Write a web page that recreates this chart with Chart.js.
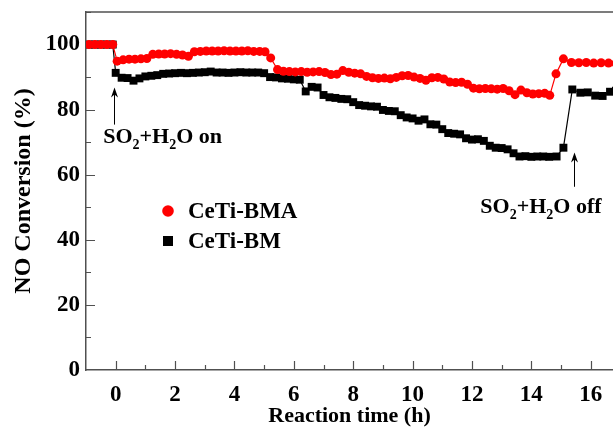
<!DOCTYPE html>
<html>
<head>
<meta charset="utf-8">
<title>NO Conversion vs Reaction time</title>
<script src="https://cdn.jsdelivr.net/npm/chart.js@4/dist/chart.umd.min.js"></script>
<style>
  html, body { margin: 0; padding: 0; background: #fff; overflow: hidden; }
  canvas { display: block; }
</style>
</head>
<body>
<canvas id="chart" width="613" height="428" style="width:613px;height:428px"></canvas>
<script>
// Reaction time (h) and NO conversion (%) for CeTi-BMA
const timeBMA = [-0.9, -0.7, -0.5, -0.3, -0.1,
  0.05, 0.25, 0.45, 0.65, 0.85, 1.05,
  1.25, 1.45, 1.65, 1.85, 2.05, 2.25, 2.45,
  2.65, 2.85, 3.05, 3.25, 3.45, 3.65, 3.85, 4.05, 4.25, 4.45, 4.65, 4.85,
  5.03, 5.22,
  5.45, 5.65, 5.85, 6.05, 6.25, 6.45, 6.65, 6.85, 7.05,
  7.25, 7.45, 7.65, 7.85, 8.05, 8.25, 8.45, 8.65, 8.85, 9.05,
  9.25, 9.45, 9.65, 9.85, 10.05, 10.25, 10.45, 10.65, 10.85, 11.05,
  11.25, 11.45, 11.65, 11.85, 12.05, 12.25, 12.45, 12.65, 12.85, 13.05,
  13.25, 13.45, 13.65, 13.85, 14.05, 14.25, 14.45, 14.62,
  14.83, 15.08, 15.35, 15.6, 15.85, 16.1, 16.35, 16.6, 16.85];
const convBMA = [100, 100, 100, 100, 100,
  94.9, 95.3, 95.5, 95.5, 95.6, 95.7,
  97.0, 97.1, 97.1, 97.2, 97.0, 96.8, 96.4,
  97.8, 97.9, 98.0, 98.0, 98.0, 98.1, 98.0, 98.0, 98.0, 98.1, 97.9, 97.9,
  97.8, 95.9,
  92.3, 91.8, 91.7, 91.6, 91.7, 91.5, 91.6, 91.7, 91.4,
  90.8, 90.9, 92.0, 91.5, 91.2, 91.0, 90.2, 89.8, 89.6, 89.7,
  89.5, 89.9, 90.4, 90.5, 90.0, 89.6, 89.0, 89.8, 89.9, 89.4,
  88.5, 88.3, 88.4, 87.8, 86.6, 86.4, 86.5, 86.4, 86.3, 86.5,
  85.8, 84.6, 86.0, 85.2, 84.8, 84.9, 85.0, 84.4,
  91.0, 95.6, 94.5, 94.4, 94.5, 94.3, 94.4, 94.3, 94.2];

// Reaction time (h) and NO conversion (%) for CeTi-BM
const timeBM = [-0.9, -0.7, -0.5, -0.3, -0.1,
  0.0, 0.2, 0.4, 0.6, 0.8, 1.0, 1.2, 1.4, 1.6, 1.8,
  2.0, 2.2, 2.4, 2.6, 2.8, 3.0, 3.2, 3.4, 3.6, 3.8,
  4.0, 4.2, 4.4, 4.6, 4.8, 5.0, 5.2, 5.4, 5.6, 5.8,
  6.0, 6.2, 6.4, 6.6, 6.8, 7.0, 7.2, 7.4, 7.6, 7.8,
  8.0, 8.2, 8.4, 8.6, 8.8, 9.0, 9.2, 9.4, 9.6, 9.8,
  10.0, 10.2, 10.4, 10.6, 10.8, 11.0, 11.2, 11.4, 11.6, 11.8,
  12.0, 12.2, 12.4, 12.6, 12.8, 13.0, 13.2, 13.4, 13.6, 13.8,
  14.0, 14.2, 14.4, 14.6, 14.85, 15.08,
  15.38, 15.65, 15.9, 16.15, 16.4, 16.65, 16.85];
const convBM = [100, 100, 100, 100, 100,
  91.3, 89.8, 89.7, 88.9, 89.6, 90.2, 90.4, 90.6, 91.0, 91.1,
  91.2, 91.3, 91.2, 91.3, 91.4, 91.5, 91.7, 91.4, 91.4, 91.3,
  91.4, 91.5, 91.4, 91.4, 91.4, 91.2, 90.0, 89.9, 89.6, 89.5,
  89.3, 89.2, 85.6, 87.0, 86.8, 84.5, 83.8, 83.6, 83.3, 83.2,
  82.3, 81.4, 81.2, 81.0, 80.9, 79.9, 79.6, 79.5, 78.3, 77.6,
  77.3, 76.6, 77.0, 75.5, 75.4, 74.0, 72.8, 72.6, 72.4, 71.2,
  70.8, 70.9, 70.4, 68.9, 68.3, 68.2, 67.8, 66.6, 65.6, 65.7,
  65.5, 65.6, 65.6, 65.5, 65.6, 68.3,
  86.2, 85.2, 85.3, 84.3, 84.2, 85.5, 85.8];

// Axis tick values
const xTickValues = [0, 2, 4, 6, 8, 10, 12, 14, 16];
const yTickValues = [0, 20, 40, 60, 80, 100];

// Gas switching events: label pieces (text, is-subscript) and time of switch
const eventOn = { time: 0, parts: [['SO', 0], ['2', 1], ['+H', 0], ['2', 1], ['O on', 0]] };
const eventOff = { time: 15.3, parts: [['SO', 0], ['2', 1], ['+H', 0], ['2', 1], ['O off', 0]] };

const SERIF = '"Liberation Serif", "Times New Roman", Times, serif';
const AXIS_COLOR = '#505050';

function toPoints(times, values) {
  return times.map((t, i) => ({ x: t, y: values[i] }));
}

// Inward tick marks and the top frame line
const axisDecor = {
  id: 'axisDecor',
  beforeDatasetsDraw(chart) {
    const { ctx, chartArea: a, scales: { x, y } } = chart;
    ctx.save();
    ctx.strokeStyle = AXIS_COLOR;
    ctx.lineWidth = 1.5;
    ctx.beginPath();
    ctx.moveTo(a.left, a.top);
    ctx.lineTo(a.right + 2, a.top);
    ctx.stroke();
    ctx.lineWidth = 1.2;
    ctx.beginPath();
    const xStep = xTickValues[1] - xTickValues[0];
    xTickValues.forEach(v => {
      [[v, 9], [v + xStep / 2, 5]].forEach(([val, len]) => {
        const px = Math.round(x.getPixelForValue(val)) + 0.5;
        if (px <= a.left || px >= a.right) return;
        ctx.moveTo(px, a.bottom);
        ctx.lineTo(px, a.bottom - len);
      });
    });
    const yStep = yTickValues[1] - yTickValues[0];
    yTickValues.forEach(v => {
      [[v, 9], [v + yStep / 2, 5]].forEach(([val, len]) => {
        const py = Math.round(y.getPixelForValue(val)) + 0.5;
        if (py >= a.bottom || py <= a.top) return;
        ctx.moveTo(a.left, py);
        ctx.lineTo(a.left + len, py);
      });
    });
    ctx.stroke();
    ctx.restore();
  }
};

function drawChem(ctx, parts, x0, baseline) {
  let cx = x0;
  parts.forEach(([txt, sub]) => {
    ctx.font = sub ? 'bold 14px ' + SERIF : 'bold 22px ' + SERIF;
    ctx.fillText(txt, cx, sub ? baseline + 6 : baseline);
    cx += ctx.measureText(txt).width;
  });
}

function drawArrow(ctx, px, yFrom, yTip) {
  ctx.beginPath();
  ctx.moveTo(px, yFrom);
  ctx.lineTo(px, yTip + 6);
  ctx.stroke();
  ctx.beginPath();
  ctx.moveTo(px, yTip);
  ctx.lineTo(px - 3.5, yTip + 10);
  ctx.lineTo(px, yTip + 7);
  ctx.lineTo(px + 3.5, yTip + 10);
  ctx.closePath();
  ctx.fill();
}

// Event labels with arrows, plus the in-plot legend
const notes = {
  id: 'notes',
  afterDatasetsDraw(chart) {
    const { ctx, chartArea: a, scales: { x, y } } = chart;
    ctx.save();
    ctx.fillStyle = '#000';
    ctx.strokeStyle = '#000';
    ctx.lineWidth = 1;
    ctx.textBaseline = 'alphabetic';
    ctx.textAlign = 'left';

    const pxOn = Math.round(x.getPixelForValue(eventOn.time - 0.05)) + 0.5;
    drawArrow(ctx, pxOn, y.getPixelForValue(75.4), y.getPixelForValue(86.8));
    drawChem(ctx, eventOn.parts, x.getPixelForValue(-0.42), y.getPixelForValue(69.8));

    const pxOff = Math.round(x.getPixelForValue(eventOff.time + 0.15)) + 0.5;
    drawArrow(ctx, pxOff, y.getPixelForValue(56.3), y.getPixelForValue(66.8));
    drawChem(ctx, eventOff.parts, x.getPixelForValue(12.28), y.getPixelForValue(48.3));

    // legend
    const lx = a.left + 82;
    chart.data.datasets.forEach((ds, i) => {
      const ly = a.top + 199 + i * 30;
      ctx.fillStyle = ds.pointBackgroundColor;
      if (ds.pointStyle === 'circle') {
        ctx.beginPath();
        ctx.arc(lx, ly, 5.8, 0, Math.PI * 2);
        ctx.fill();
      } else {
        ctx.fillRect(lx - 5, ly - 5, 10, 10);
      }
      ctx.fillStyle = '#000';
      ctx.font = 'bold 23px ' + SERIF;
      ctx.textBaseline = 'middle';
      ctx.fillText(ds.label, lx + 20, ly + 1);
    });
    ctx.restore();
  }
};

new Chart(document.getElementById('chart'), {
  type: 'line',
  data: {
    datasets: [
      {
        label: 'CeTi-BMA',
        data: toPoints(timeBMA, convBMA),
        borderColor: '#ff0000',
        backgroundColor: '#ff0000',
        pointBackgroundColor: '#ff0000',
        pointStyle: 'circle',
        pointRadius: 4.5,
        pointBorderWidth: 0,
        borderWidth: 1.2,
        tension: 0
      },
      {
        label: 'CeTi-BM',
        data: toPoints(timeBM, convBM),
        borderColor: '#000000',
        backgroundColor: '#000000',
        pointBackgroundColor: '#000000',
        pointStyle: 'rect',
        pointRadius: 5.6,
        pointBorderWidth: 0,
        borderWidth: 1.2,
        tension: 0
      }
    ]
  },
  options: {
    responsive: false,
    animation: false,
    devicePixelRatio: 1,
    layout: { autoPadding: false, padding: { left: 0, top: 12, right: 0, bottom: 0 } },
    plugins: { legend: { display: false }, tooltip: { enabled: false } },
    scales: {
      x: {
        type: 'linear',
        min: -1,
        max: 16.75,
        afterBuildTicks: s => { s.ticks = xTickValues.map(v => ({ value: v })); },
        afterFit: s => { s.height = 58; s.paddingLeft = 0; s.paddingRight = 0; },
        grid: { display: false, drawTicks: false },
        border: { display: true, color: AXIS_COLOR, width: 1.5 },
        ticks: {
          color: '#000',
          padding: 11,
          maxRotation: 0,
          autoSkip: false,
          font: { family: SERIF, size: 23, weight: 'bold' }
        },
        title: {
          display: true,
          text: 'Reaction time (h)',
          color: '#000',
          padding: { top: 0, bottom: 0 },
          font: { family: SERIF, size: 22, weight: 'bold', lineHeight: 1.1 }
        }
      },
      y: {
        min: 0,
        max: 110,
        afterBuildTicks: s => { s.ticks = yTickValues.map(v => ({ value: v })); },
        afterFit: s => { s.width = 86; s.paddingTop = 0; s.paddingBottom = 0; },
        grid: { display: false, drawTicks: false },
        border: { display: true, color: AXIS_COLOR, width: 1.5 },
        ticks: {
          color: '#000',
          padding: 6,
          autoSkip: false,
          font: { family: SERIF, size: 23, weight: 'bold' }
        },
        title: {
          display: true,
          text: 'NO Conversion (%)',
          color: '#000',
          padding: { top: 9, bottom: 0 },
          font: { family: SERIF, size: 24, weight: 'bold' }
        }
      }
    }
  },
  plugins: [axisDecor, notes]
});
</script>
</body>
</html>
